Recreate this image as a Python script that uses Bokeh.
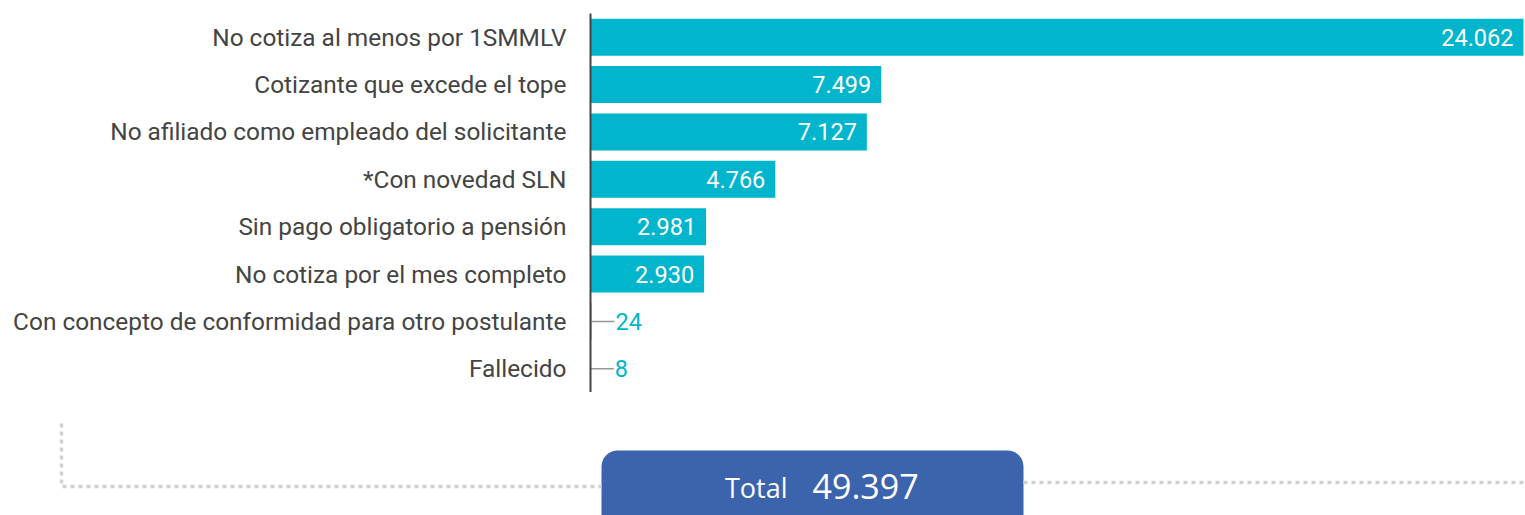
from bokeh.plotting import figure
from bokeh.models import Range1d, FactorRange, BoxAnnotation, ColumnDataSource
from bokeh.embed import file_html
from bokeh.resources import INLINE
from bokeh.core.properties import value

categories = [
    "No cotiza al menos por 1SMMLV",
    "Cotizante que excede el tope",
    "No afiliado como empleado del solicitante",
    "*Con novedad SLN",
    "Sin pago obligatorio a pensión",
    "No cotiza por el mes completo",
    "Con concepto de conformidad para otro postulante",
    "Fallecido",
]
counts = [24062, 7499, 7127, 4766, 2981, 2930, 24, 8]
total_label = "Total"

BAR = "#00b5cc"
TXT = "#444444"

def fmt(v):
    return f"{v:,}".replace(",", ".")

W = 1525
FRAME_LEFT = 590
X_END = 24114
upp = X_END / (W - FRAME_LEFT)  # data units per pixel

p = figure(width=W, height=392, y_range=FactorRange(*reversed(categories), range_padding=0),
           x_range=Range1d(0, X_END), output_backend="svg", toolbar_location=None,
           min_border_left=FRAME_LEFT, min_border_right=0, min_border_top=13, min_border_bottom=0)
p.outline_line_color = None
p.xaxis.visible = False
p.xgrid.visible = False
p.ygrid.visible = False
p.yaxis.axis_line_color = TXT
p.yaxis.axis_line_width = 2
p.yaxis.major_tick_line_color = None
p.yaxis.minor_tick_line_color = None
p.yaxis.major_label_standoff = 18
p.yaxis.major_label_text_font = "Roboto"
p.yaxis.major_label_text_font_size = "24.4px"
p.yaxis.major_label_text_color = TXT

src = ColumnDataSource(dict(cat=categories, val=counts))
p.hbar(y="cat", left=0, right="val", height=0.78, source=src, fill_color=BAR, line_color=None)

inside = [i for i, v in enumerate(counts) if v >= 1000]
outside = [i for i, v in enumerate(counts) if v < 1000]

src_in = ColumnDataSource(dict(cat=[categories[i] for i in inside], val=[counts[i] for i in inside],
                               lab=[fmt(counts[i]) for i in inside]))
p.text(x="val", y="cat", text="lab", source=src_in, text_align="right", text_baseline="middle",
       x_offset=-10, text_color="white", text_font=value("Roboto"), text_font_size="23.5px")

src_out = ColumnDataSource(dict(cat=[categories[i] for i in outside], val=[counts[i] for i in outside],
                                end=[counts[i] + 23 * upp for i in outside],
                                lab=[fmt(counts[i]) for i in outside]))
p.segment(x0="val", y0="cat", x1="end", y1="cat", source=src_out, line_color="#999999", line_width=1.5)
p.text(x="end", y="cat", text="lab", source=src_out, text_align="left", text_baseline="middle",
       x_offset=1, text_color=BAR, text_font=value("Roboto"), text_font_size="23.5px")

# bottom: total box
total = sum(counts)
H2 = 123
p2 = figure(width=W, height=H2, x_range=Range1d(0, W), y_range=Range1d(H2, 0),
            output_backend="svg", toolbar_location=None, min_border=0)
p2.outline_line_color = None
p2.axis.visible = False
p2.grid.visible = False

DOT = "#d0d0d0"
p2.line(x=[61, 61, 601], y=[31, 94, 94], line_color=DOT, line_width=3.5, line_dash="4 4")
p2.line(x=[1023, W], y=[90, 90], line_color=DOT, line_width=3.5, line_dash="4 4")

box = BoxAnnotation(left=601, right=1023, top=58, bottom=170, fill_color="#3b64ad", fill_alpha=1,
                    line_color=None, border_radius=16, level="underlay")
p2.add_layout(box)
p2.text(x=[787], y=[95], text=[total_label], text_align="right", text_baseline="middle",
        text_color="white", text_font=value("Open Sans"), text_font_size="27px")
p2.text(x=[812], y=[94], text=[fmt(total)], text_align="left", text_baseline="middle",
        text_color="white", text_font=value("Open Sans"), text_font_size="34px")

open("out.html", "w").write(file_html([p, p2], INLINE))
